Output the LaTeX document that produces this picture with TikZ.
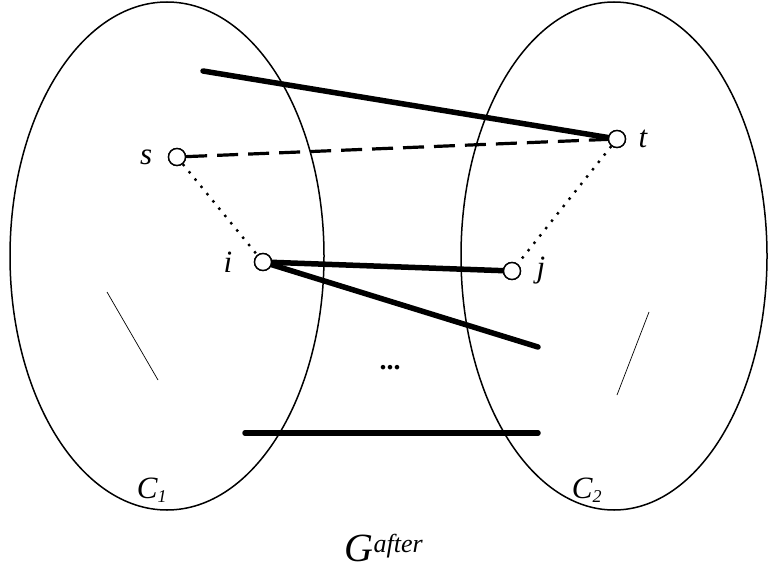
\documentclass[tikz,border=0pt]{standalone}
\usepackage{fontspec}
\setmainfont{Liberation Serif}
\usepackage{tikz}
\usetikzlibrary{positioning}

\tikzset{
  vertex/.style={circle, draw, line width=1.4pt, fill=white,
                 minimum size=17pt, inner sep=0pt},
  vlabel/.style={font=\fontsize{31}{33}\selectfont\itshape},
  heavy/.style={line width=5.5pt, line cap=round},
  cluster/.style={draw, line width=1.5pt},
  hair/.style={line width=0.7pt}
}

\begin{document}
\begin{tikzpicture}[x=1pt, y=-1pt]
\useasboundingbox (0,0) rectangle (768,583);

% The two components
\draw[cluster] (167,256) ellipse [x radius=157, y radius=254];
\draw[cluster] (614,256) ellipse [x radius=153, y radius=254];
\node[vlabel] (c1) at (152,490) {C\textsubscript{\fontsize{18}{18}\selectfont 1}};
\node[vlabel] (c2) at (587,490) {C\textsubscript{\fontsize{18}{18}\selectfont 2}};

% Vertices
\node[vertex, label={[vlabel, label distance=12pt]left:s}]  (s) at (177,157) {};
\node[vertex, label={[vlabel, label distance=9pt]right:t}]  (t) at (617,139) {};
\node[vertex, label={[vlabel, label distance=18pt]left:i}]  (i) at (263,262) {};
\node[vertex, label={[vlabel, label distance=12pt]right:j}] (j) at (512,271) {};

% Free ends of the crossing edges
\coordinate (a1) at (203,71);
\coordinate (b1) at (538,347);
\coordinate (a2) at (245,433);
\coordinate (b2) at (538,433);

% Edges between the components
\draw[heavy] (a1) -- (t);
\draw[line width=3.2pt, dash pattern=on 21pt off 10pt] (s) -- (t);
\draw[line width=2.4pt, dash pattern=on 2.4pt off 7pt] (s) -- (i);
\draw[line width=2.4pt, dash pattern=on 2.4pt off 7pt] (t) -- (j);
\draw[heavy] (i) -- (j);
\draw[heavy] (i) -- (b1);
\draw[heavy] (a2) -- (b2);

% Redraw vertices on top
\foreach \v in {s,t,i,j}
  \node[vertex] at (\v) {};

% Inner paths and the rest
\draw[hair] (107,292) -- (158,380);
\draw[hair] (649,312) -- (617,395);
\node[font=\fontsize{28}{30}\selectfont\bfseries] (more) at (390,368) {...};
\node[font=\fontsize{40}{42}\selectfont\itshape] (gafter) at (384,548)
  {G\textsuperscript{\fontsize{26}{26}\selectfont after}};

\end{tikzpicture}
\end{document}
